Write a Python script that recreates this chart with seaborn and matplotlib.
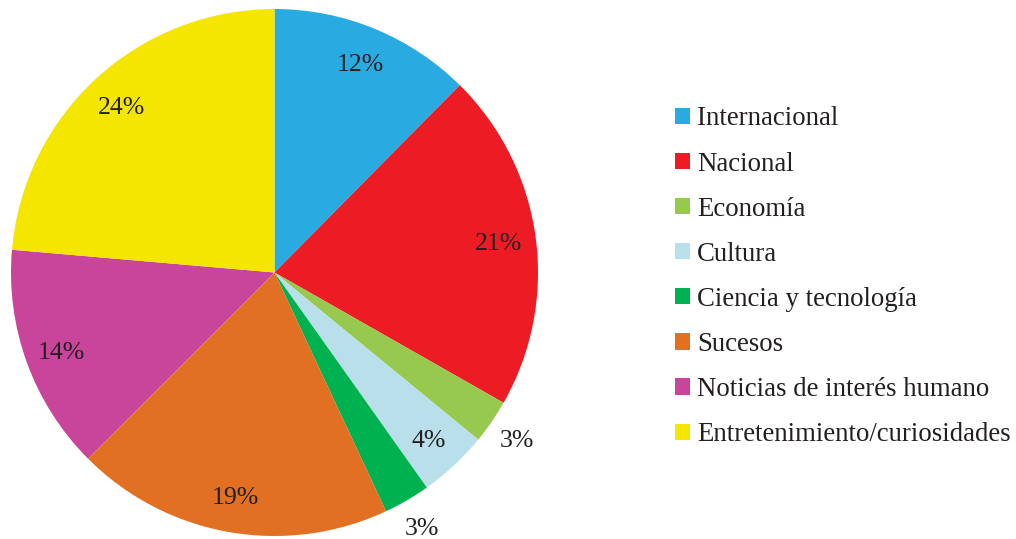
import numpy as np
import matplotlib
matplotlib.use("Agg")
import matplotlib.pyplot as plt
import seaborn as sns

categories = ["Internacional", "Nacional", "Economía", "Cultura",
              "Ciencia y tecnología", "Sucesos",
              "Noticias de interés humano", "Entretenimiento/curiosidades"]
# shares (labels show them rounded)
shares = [12.4, 20.8, 2.7, 4.25, 2.85, 19.45, 13.85, 23.6]
colors = ["#29ABE2", "#ED1C24", "#97C94F", "#B8DFEA",
          "#00B14F", "#E27023", "#C8459B", "#F5E600"]

sns.set_theme(style="white")
plt.rcParams["font.family"] = ["Liberation Serif", "DejaVu Serif"]
text_color = "#231F20"

fig = plt.figure(figsize=(10.16, 5.39), dpi=100)
# pie on the left: centre ~ (274.5, 272.5) px, radius ~ 263.5 px
ax = fig.add_axes([11 / 1016, 3 / 539, 527 / 1016, 527 / 539])

wedges, _ = ax.pie(shares, colors=colors, startangle=90, counterclock=False,
                   radius=1.0, wedgeprops=dict(linewidth=0))
ax.set_xlim(-1, 1)
ax.set_ylim(-1, 1)
ax.set_aspect("equal")
ax.axis("off")

# percentage labels, the two smallest slices get theirs outside the rim
for w, v in zip(wedges, shares):
    mid = np.deg2rad((w.theta1 + w.theta2) / 2)
    d = 1.115 if v < 3 else 0.86
    ax.text(d * np.cos(mid), d * np.sin(mid), f"{v:.0f}%", ha="center",
            va="center_baseline", fontsize=18.5, color=text_color, clip_on=False)

leg = fig.legend(wedges, categories, loc="upper left",
                 bbox_to_anchor=(662 / 1016, 1 - 93 / 539),
                 frameon=False, fontsize=19.3, handlelength=0.55, handleheight=0.55,
                 handletextpad=0.25, labelspacing=0.75, borderpad=0)
for t in leg.get_texts():
    t.set_color(text_color)

fig.savefig("out.png", dpi=100)
